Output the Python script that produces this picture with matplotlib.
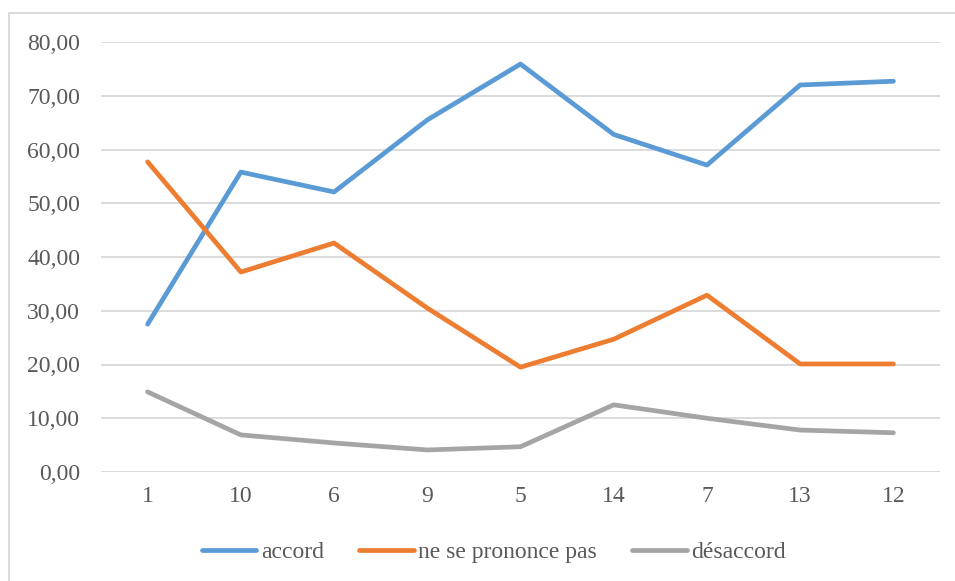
import matplotlib
matplotlib.use("Agg")
import matplotlib.pyplot as plt
from matplotlib.patches import Rectangle

categories = ["1", "10", "6", "9", "5", "14", "7", "13", "12"]
accord = [27.5, 55.8, 52.1, 65.5, 75.9, 62.8, 57.1, 72.0, 72.7]
ne_se_prononce_pas = [57.7, 37.2, 42.6, 30.5, 19.5, 24.7, 32.9, 20.1, 20.1]
desaccord = [14.9, 6.9, 5.4, 4.1, 4.7, 12.5, 10.0, 7.8, 7.3]
series_names = ["accord", "ne se prononce pas", "désaccord"]
yticks = [0, 10, 20, 30, 40, 50, 60, 70, 80]

colors = ["#5B9BD5", "#ED7D31", "#A5A5A5"]
txt = "#595959"

plt.rcParams['font.family'] = ['Liberation Serif', 'DejaVu Serif']

fig = plt.figure(figsize=(9.55, 5.81), dpi=100)
ax = fig.add_axes([101/955, 1 - 472/581, (940-101)/955, (472-42)/581])

x = list(range(len(categories)))
for vals, name, c in zip([accord, ne_se_prononce_pas, desaccord], series_names, colors):
    ax.plot(x, vals, color=c, lw=3.4, solid_capstyle='round', solid_joinstyle='round', label=name)

ax.set_xlim(-0.5, len(categories) - 0.5)
ax.set_ylim(0, 80)
ax.set_yticks(yticks)
ax.set_yticklabels([f"{v:.2f}".replace(".", ",") for v in yticks])
ax.set_xticks(x)
ax.set_xticklabels(categories)
ax.grid(axis='y', color='#D9D9D9', lw=1.3)
ax.set_axisbelow(True)
for s in ax.spines.values():
    s.set_visible(False)
ax.tick_params(length=0, labelsize=17, colors=txt, pad=10)
ax.tick_params(axis='y', pad=15)

leg = fig.legend(loc='center', bbox_to_anchor=(494/955, 1 - 552/581), ncol=3, frameon=False,
                 prop={'family': ['Liberation Serif', 'DejaVu Serif'], 'size': 17},
                 handlelength=2.3, handletextpad=0.2, columnspacing=1.5)
for t in leg.get_texts():
    t.set_color(txt)

fig.patches.append(Rectangle((9/955, -0.05), 1.0, 1 - 13/581 + 0.05, transform=fig.transFigure,
                             fill=False, edgecolor='#D9D9D9', lw=1.3, clip_on=False))

fig.savefig("out.png", dpi=100)
